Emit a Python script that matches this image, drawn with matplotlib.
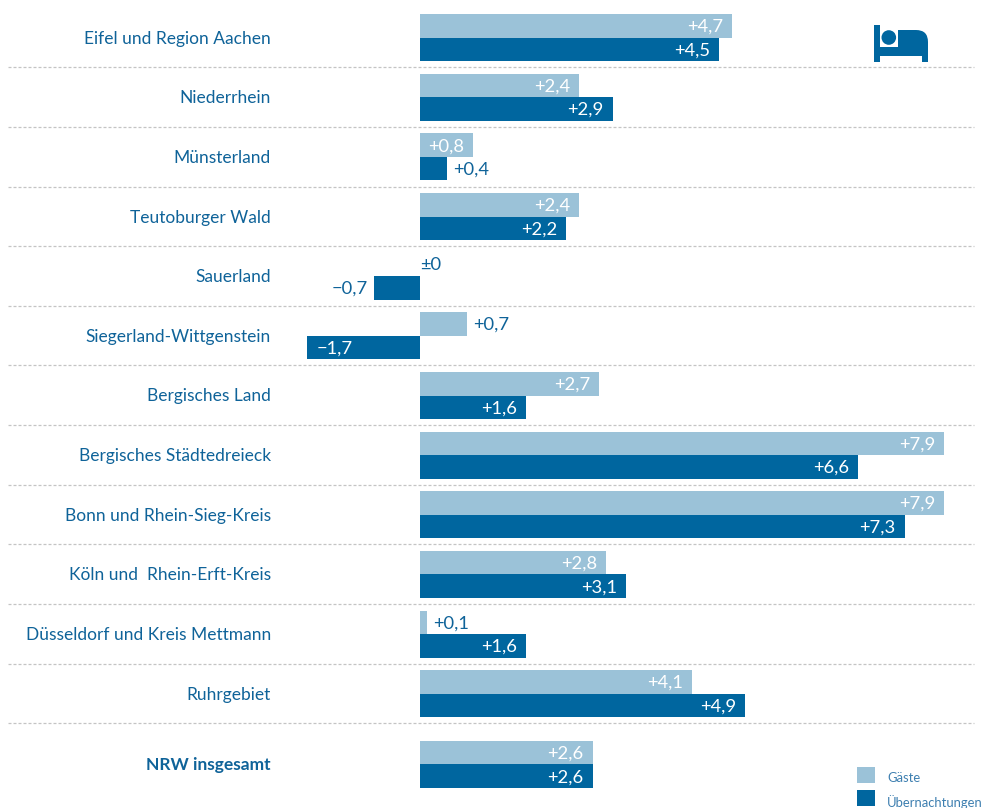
import matplotlib
matplotlib.use('Agg')
import matplotlib.pyplot as plt
from matplotlib.patches import Rectangle, Ellipse, PathPatch
from matplotlib.path import Path

plt.rcParams['font.family'] = ['Lato', 'DejaVu Sans']

regions = ['Eifel und Region Aachen', 'Niederrhein', 'Münsterland', 'Teutoburger Wald',
           'Sauerland', 'Siegerland-Wittgenstein', 'Bergisches Land', 'Bergisches Städtedreieck',
           'Bonn und Rhein-Sieg-Kreis', 'Köln und  Rhein-Erft-Kreis',
           'Düsseldorf und Kreis Mettmann', 'Ruhrgebiet', 'NRW insgesamt']
gaeste = [4.7, 2.4, 0.8, 2.4, 0, 0.7, 2.7, 7.9, 7.9, 2.8, 0.1, 4.1, 2.6]
uebernachtungen = [4.5, 2.9, 0.4, 2.2, -0.7, -1.7, 1.6, 6.6, 7.3, 3.1, 1.6, 4.9, 2.6]

DARK = '#00669f'
LIGHT = '#9bc2d8'
TEXT = '#0f6399'
PX = 66.35  # pixels per percentage point
X0 = 420.2
BAR_H = 23.5
W, H = 982, 808
VAL_SIZE = 13.2

fig = plt.figure(figsize=(W / 100, H / 100), dpi=100)
ax = fig.add_axes([0, 0, 1, 1])
ax.set_xlim(-X0 / PX, (W - X0) / PX)
ax.set_ylim(H, 0)
ax.axis('off')

def px(x):
    return (x - X0) / PX

def value_label(val, y, light):
    y = y + 1
    if val == 0:
        ax.text(px(420), y, '±0', color=TEXT, ha='left', va='center', fontsize=VAL_SIZE)
        return
    txt = ('+' if val > 0 else '\u2212') + f'{abs(val):.1f}'.replace('.', ',')
    inside = abs(val) >= (0.8 if light else 1.0)
    if val > 0 and inside:
        ax.annotate(txt, (val, y), xytext=(-6.5, 0), textcoords='offset points', color='white',
                    ha='right', va='center', fontsize=VAL_SIZE)
    elif val > 0:
        ax.annotate(txt, (val, y), xytext=(4.5, 0), textcoords='offset points', color=TEXT,
                    ha='left', va='center', fontsize=VAL_SIZE)
    elif inside:
        ax.annotate(txt, (val, y), xytext=(6.5, 0), textcoords='offset points', color='white',
                    ha='left', va='center', fontsize=VAL_SIZE)
    else:
        ax.annotate(txt, (val, y), xytext=(-4, 0), textcoords='offset points', color=TEXT,
                    ha='right', va='center', fontsize=VAL_SIZE)

for i, name in enumerate(regions):
    # the total row sits a bit further down
    yc = 37.6 + i * 59.65 + (11 if i == 12 else 0)
    ax.barh(yc - BAR_H / 2, gaeste[i], height=BAR_H, color=LIGHT, linewidth=0)
    ax.barh(yc + BAR_H / 2, uebernachtungen[i], height=BAR_H, color=DARK, linewidth=0)
    value_label(gaeste[i], yc - BAR_H / 2, True)
    value_label(uebernachtungen[i], yc + BAR_H / 2, False)
    ax.text(px(271), yc + 1, name, color=TEXT, ha='right', va='center', fontsize=12.5,
            fontweight='bold' if i == 12 else 'normal')
    if i < 12:
        sep = 67.2 + i * 59.65
        ax.plot([px(8), px(974)], [sep, sep], color='#c4c4c4', lw=0.9, dashes=(2.4, 1.6))

# legend
ax.add_patch(Rectangle((px(857), 767), 18 / PX, 16, color=LIGHT, lw=0))
ax.add_patch(Rectangle((px(857), 790), 18 / PX, 16, color=DARK, lw=0))
ax.text(px(887), 778.5, 'Gäste', color='#3d7fb0', ha='left', va='center', fontsize=9.4)
ax.text(px(887), 802, 'Übernachtungen', color='#3d7fb0', ha='left', va='center', fontsize=9.4)

# bed icon
ax.add_patch(Rectangle((px(874), 25), 5.5 / PX, 36.5, color=DARK, lw=0))
ax.add_patch(Rectangle((px(874), 47), 54 / PX, 9, color=DARK, lw=0))
ax.add_patch(Rectangle((px(922), 50), 6 / PX, 11.5, color=DARK, lw=0))
ax.add_patch(Ellipse((px(888.8), 37.5), 14.6 / PX, 14.6, color=DARK, lw=0))
verts = [(px(898), 47), (px(898), 30), (px(916), 30), (px(928), 30), (px(928), 42), (px(928), 47), (px(898), 47)]
codes = [Path.MOVETO, Path.LINETO, Path.LINETO, Path.CURVE3, Path.CURVE3, Path.LINETO, Path.CLOSEPOLY]
ax.add_patch(PathPatch(Path(verts, codes), color=DARK, lw=0))

fig.savefig('out.png', dpi=100)
